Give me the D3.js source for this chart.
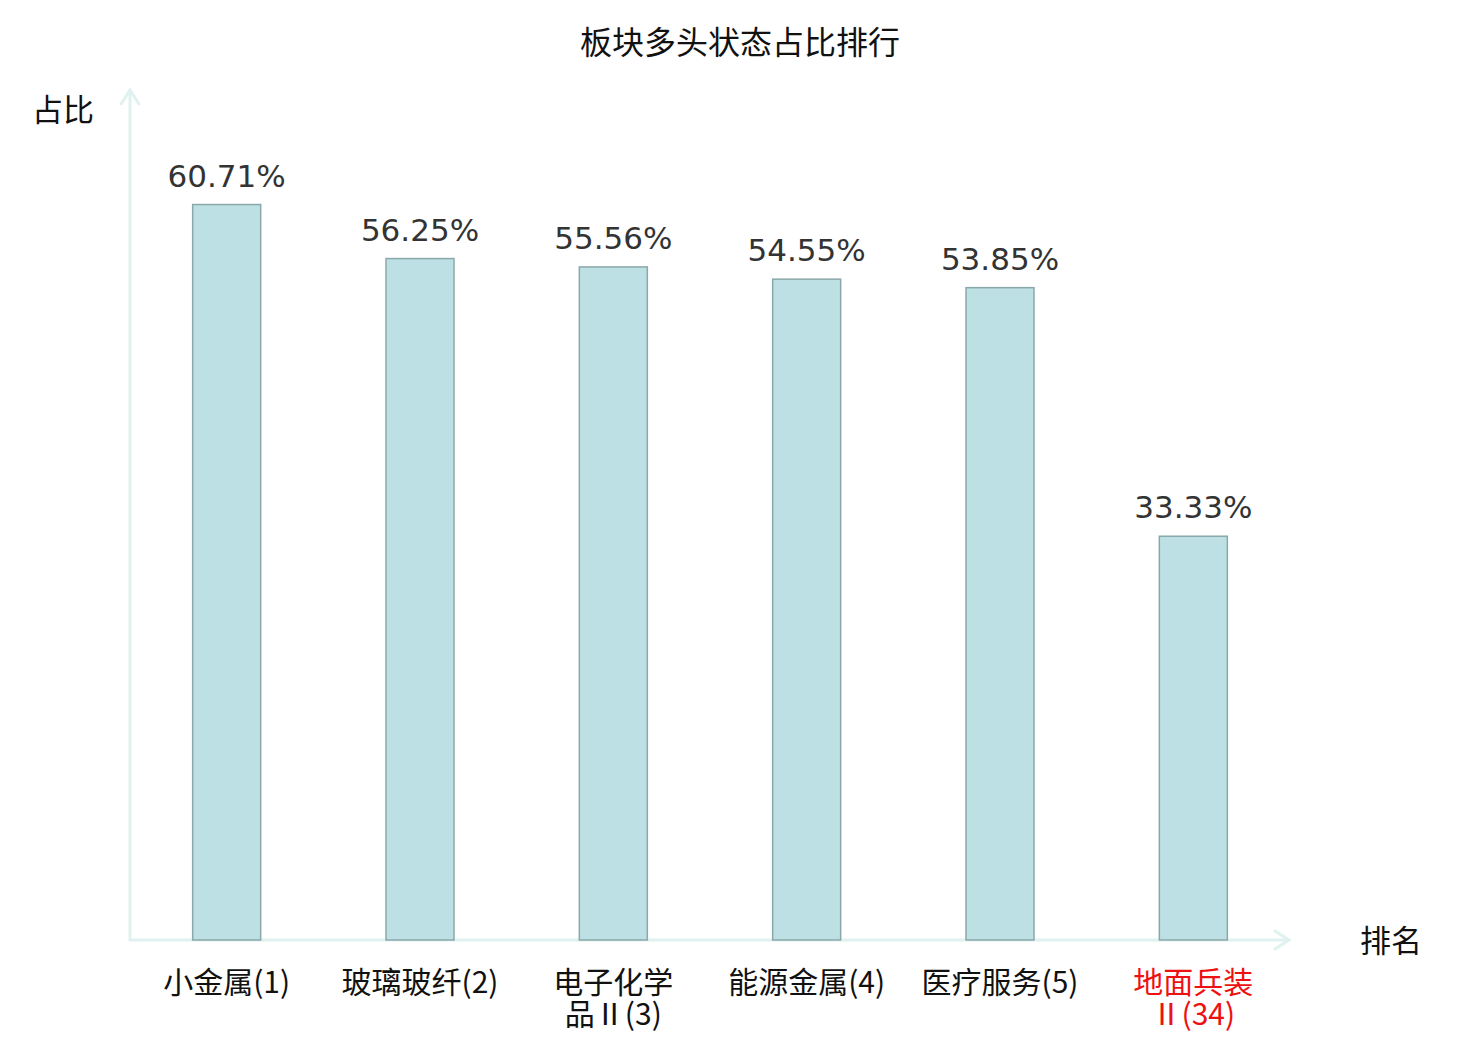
<!DOCTYPE html>
<html>
<head>
<meta charset="utf-8">
<script src="https://cdn.jsdelivr.net/npm/d3@7"></script>
<style>
  body { margin: 0; background: #fff; }
  svg { display: block; }
</style>
</head>
<body>
<div id="chart"></div>
<script>
// data
const sectors = ["小金属", "玻璃玻纤", "电子化学品Ⅱ", "能源金属", "医疗服务", "地面兵装Ⅱ"];
const ranks = [1, 2, 3, 4, 5, 34];
const shares = [60.71, 56.25, 55.56, 54.55, 53.85, 33.33];
// label lines (wrapped like the original)
const labelLines = [
  ["小金属(1)"],
  ["玻璃玻纤(2)"],
  ["电子化学", "品Ⅱ(3)"],
  ["能源金属(4)"],
  ["医疗服务(5)"],
  ["地面兵装", "Ⅱ(34)"]
];

const width = 1480, height = 1040;
const x0 = 130, x1 = 1290, yBase = 940, yTop = 92;
const cjk = "'Noto Sans CJK SC', 'Noto Sans', sans-serif";
const axisColor = "#dff2ef";

const svg = d3.select("#chart").append("svg")
    .attr("width", width)
    .attr("height", height);

const x = d3.scaleBand()
    .domain(d3.range(sectors.length))
    .range([x0, x1]);

const y = d3.scaleLinear()
    .domain([0, 70])
    .range([yBase, yTop]);

const barW = 68;

// title
svg.append("text")
    .attr("x", 740)
    .attr("y", 54)
    .attr("text-anchor", "middle")
    .attr("font-family", cjk)
    .attr("font-size", 32)
    .attr("fill", "#111")
    .text("板块多头状态占比排行");

// axes with arrows
const axes = svg.append("g")
    .attr("stroke", axisColor)
    .attr("stroke-width", 3)
    .attr("fill", "none")
    .attr("stroke-linecap", "round");

axes.append("line").attr("x1", x0).attr("y1", yBase).attr("x2", x0).attr("y2", 90);
axes.append("path").attr("d", `M${x0 - 9},${104} L${x0},${90} L${x0 + 9},${104}`);
axes.append("line").attr("x1", x0).attr("y1", yBase).attr("x2", 1289).attr("y2", yBase);
axes.append("path").attr("d", `M${1275},${yBase - 9} L${1289},${yBase} L${1275},${yBase + 9}`);

// axis names
svg.append("text")
    .attr("x", 63).attr("y", 121)
    .attr("text-anchor", "middle")
    .attr("font-family", cjk)
    .attr("font-size", 31)
    .attr("fill", "#111")
    .text("占比");

svg.append("text")
    .attr("x", 1391).attr("y", 952)
    .attr("text-anchor", "middle")
    .attr("font-family", cjk)
    .attr("font-size", 31)
    .attr("fill", "#111")
    .text("排名");

// bars
svg.append("g").selectAll("rect")
    .data(shares)
    .join("rect")
    .attr("x", (d, i) => x(i) + x.bandwidth() / 2 - barW / 2)
    .attr("y", d => y(d))
    .attr("width", barW)
    .attr("height", d => yBase - y(d))
    .attr("fill", "#bce0e3")
    .attr("stroke", "#8aa8a9")
    .attr("stroke-width", 1.5);

// value labels
svg.append("g").selectAll("text")
    .data(shares)
    .join("text")
    .attr("x", (d, i) => x(i) + x.bandwidth() / 2)
    .attr("y", d => y(d) - 18)
    .attr("text-anchor", "middle")
    .attr("font-family", "'DejaVu Sans', sans-serif")
    .attr("font-size", 31)
    .attr("fill", "#333")
    .text(d => d.toFixed(2) + "%");

// category labels, one text per line
const catData = labelLines.flatMap((lines, i) => lines.map((t, j) => ({ t, i, j })));
svg.append("g").selectAll("text")
    .data(catData)
    .join("text")
    .attr("x", d => x(d.i) + x.bandwidth() / 2)
    .attr("y", d => 993 + d.j * 32)
    .attr("text-anchor", "middle")
    .attr("font-family", cjk)
    .attr("font-size", 30)
    .attr("fill", d => ranks[d.i] > 5 ? "#ee1111" : "#111")
    .text(d => d.t);
</script>
</body>
</html>
